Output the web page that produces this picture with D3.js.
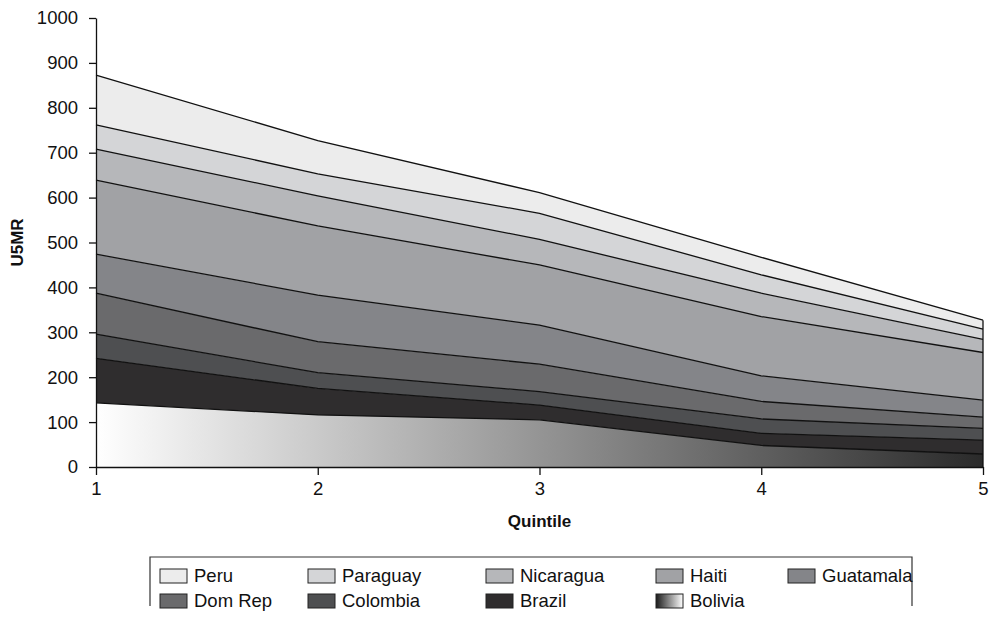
<!DOCTYPE html>
<html>
<head>
<meta charset="utf-8">
<script src="https://cdn.jsdelivr.net/npm/d3@7"></script>
<style>
  html, body { margin: 0; padding: 0; background: #fff; }
  svg { display: block; font-family: "Liberation Sans", Arial, sans-serif; }
</style>
</head>
<body>
<svg id="chart" width="989" height="630"></svg>
<script>
// ---- data (stack order: bottom -> top) ----
const quintiles = [1, 2, 3, 4, 5];
const countries = ["Bolivia", "Brazil", "Colombia", "Dom Rep", "Guatamala", "Haiti", "Nicaragua", "Paraguay", "Peru"];
const bolivia   = [143, 116, 105, 48, 29];
const brazil    = [99, 59, 33, 27, 31];
const colombia  = [54, 35, 30, 32, 26];
const domRep    = [91, 69, 61, 39, 25];
const guatemala = [87, 104, 87, 57, 38];
const haiti     = [165, 154, 134, 132, 106];
const nicaragua = [69, 67, 57, 52, 29];
const paraguay  = [54, 49, 58, 41, 23];
const peru      = [111, 74, 46, 39, 20];
const yTicks = [0, 100, 200, 300, 400, 500, 600, 700, 800, 900, 1000];
const legendOrder = ["Peru", "Paraguay", "Nicaragua", "Haiti", "Guatamala", "Dom Rep", "Colombia", "Brazil", "Bolivia"];

const seriesValues = {
  "Bolivia": bolivia, "Brazil": brazil, "Colombia": colombia, "Dom Rep": domRep,
  "Guatamala": guatemala, "Haiti": haiti, "Nicaragua": nicaragua, "Paraguay": paraguay, "Peru": peru
};
const fills = {
  "Peru": "#ececec", "Paraguay": "#d4d5d7", "Nicaragua": "#b6b7ba", "Haiti": "#a1a2a5",
  "Guatamala": "#848589", "Dom Rep": "#6a6a6c", "Colombia": "#4e4f51", "Brazil": "#2f2d2e",
  "Bolivia": "url(#bolGrad)"
};

const table = quintiles.map((q, i) => {
  const row = { q };
  countries.forEach(c => row[c] = seriesValues[c][i]);
  return row;
});

const svg = d3.select("#chart");
const mLeft = 96, mRight = 983, mTop = 18, mBottom = 467;
const x = d3.scaleLinear().domain([1, 5]).range([mLeft, mRight]);
const y = d3.scaleLinear().domain([0, 1000]).range([mBottom, mTop]);

const defs = svg.append("defs");
const g1 = defs.append("linearGradient").attr("id", "bolGrad")
  .attr("gradientUnits", "userSpaceOnUse")
  .attr("x1", mLeft).attr("x2", mRight).attr("y1", 0).attr("y2", 0);
g1.append("stop").attr("offset", "0%").attr("stop-color", "#ffffff");
g1.append("stop").attr("offset", "100%").attr("stop-color", "#2a2a2a");
const g2 = defs.append("linearGradient").attr("id", "bolLegGrad")
  .attr("x1", "0").attr("x2", "1").attr("y1", "0").attr("y2", "0");
g2.append("stop").attr("offset", "0%").attr("stop-color", "#1a1a1a");
g2.append("stop").attr("offset", "100%").attr("stop-color", "#ffffff");

const stacked = d3.stack().keys(countries)(table);

const area = d3.area()
  .x(d => x(d.data.q))
  .y0(d => y(d[0]))
  .y1(d => y(d[1]));
const topLine = d3.line()
  .x(d => x(d.data.q))
  .y(d => y(d[1]));

svg.append("g").selectAll("path.area")
  .data(stacked).join("path")
  .attr("class", "area")
  .attr("d", area)
  .attr("fill", d => fills[d.key])
  .attr("stroke", "none");

svg.append("g").selectAll("path.line")
  .data(stacked).join("path")
  .attr("class", "line")
  .attr("d", topLine)
  .attr("fill", "none")
  .attr("stroke", "#111")
  .attr("stroke-width", 1.3);

// right edge line
const last = stacked[stacked.length - 1];
svg.append("line")
  .attr("x1", x(5)).attr("x2", x(5))
  .attr("y1", y(last[4][1])).attr("y2", y(0))
  .attr("stroke", "#111").attr("stroke-width", 1.3);

// axes
const yAxis = d3.axisLeft(y).tickValues(yTicks).tickFormat(d3.format("d"))
  .tickSize(7).tickPadding(11).tickSizeOuter(0);
const yg = svg.append("g").attr("transform", `translate(${mLeft},0)`).call(yAxis);
yg.selectAll("text").attr("font-size", 18.5).attr("fill", "#111")
  .attr("font-family", "'Liberation Sans', Arial, sans-serif");

const xAxis = d3.axisBottom(x).tickValues(quintiles).tickFormat(d3.format("d"))
  .tickSize(8).tickPadding(7).tickSizeOuter(0);
const xg = svg.append("g").attr("transform", `translate(0,${mBottom})`).call(xAxis);
xg.selectAll("text").attr("font-size", 18.5).attr("fill", "#111")
  .attr("font-family", "'Liberation Sans', Arial, sans-serif");
svg.selectAll(".domain, .tick line").attr("stroke", "#111").attr("stroke-width", 1.3);

// axis titles
svg.append("text").attr("x", (mLeft + mRight) / 2).attr("y", 527)
  .attr("text-anchor", "middle").attr("font-size", 17).attr("font-weight", "bold")
  .attr("fill", "#111").text("Quintile");
svg.append("text")
  .attr("transform", `translate(23,${(mTop + mBottom) / 2}) rotate(-90)`)
  .attr("text-anchor", "middle").attr("font-size", 17).attr("font-weight", "bold")
  .attr("fill", "#111").text("U5MR");

// legend
const lg = svg.append("g");
const lx0 = 150, lx1 = 912, ly0 = 557, ly1 = 606;
lg.append("path")
  .attr("d", `M${lx0},${ly1} V${ly0} H${lx1} V${ly1}`)
  .attr("fill", "none").attr("stroke", "#333").attr("stroke-width", 1.2);
const colX = [160, 308, 486, 656, 788];
const rowY = [576, 601];
legendOrder.forEach((name, i) => {
  const c = i % 5, r = Math.floor(i / 5);
  const gx = colX[c], gy = rowY[r];
  lg.append("rect")
    .attr("x", gx).attr("y", gy - 7).attr("width", 27).attr("height", 14)
    .attr("fill", name === "Bolivia" ? "url(#bolLegGrad)" : fills[name])
    .attr("stroke", "#222").attr("stroke-width", 1);
  lg.append("text")
    .attr("x", gx + 34).attr("y", gy).attr("dy", "0.35em")
    .attr("font-size", 18.5).attr("fill", "#111").text(name);
});
</script>
</body>
</html>
